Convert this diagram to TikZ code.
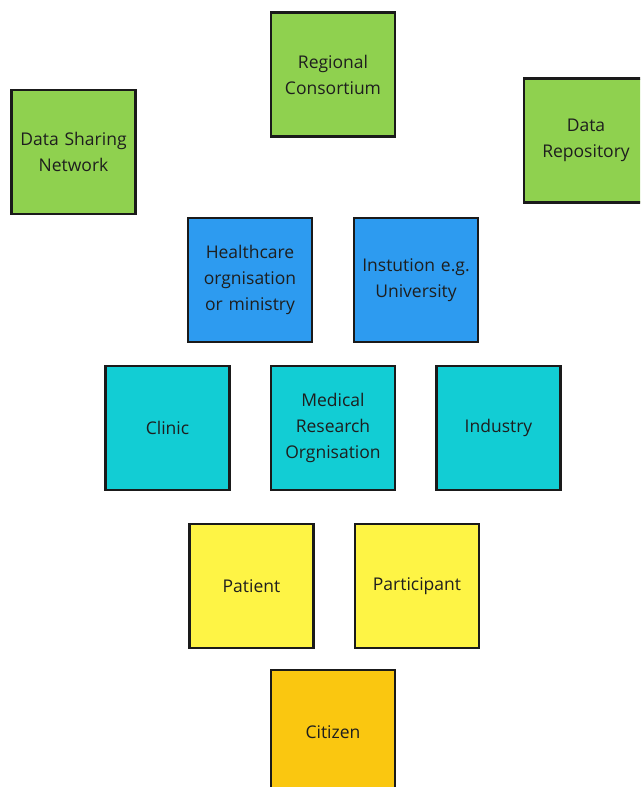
\documentclass[tikz,border=0pt]{standalone}
\usepackage{fontspec}
\setmainfont{Open Sans}
\definecolor{mgreen}{HTML}{8FD14F}
\definecolor{mblue}{HTML}{2D9BF0}
\definecolor{mteal}{HTML}{12CDD4}
\definecolor{myellow}{HTML}{FEF445}
\definecolor{morange}{HTML}{FAC710}
\definecolor{mtext}{HTML}{1E1E1E}
\definecolor{mborder}{HTML}{1A1A1A}
\begin{document}
\begin{tikzpicture}[x=1pt,y=-1pt,
  sticky/.style={draw=mborder, line width=2.4pt, minimum width=124pt, minimum height=124pt,
    inner sep=0pt, align=center, text=mtext, font=\fontsize{17.5}{26}\selectfont, text width=122pt},
  green/.style={sticky, fill=mgreen},
  blue/.style={sticky, fill=mblue},
  teal/.style={sticky, fill=mteal},
  yellow/.style={sticky, fill=myellow},
  orange/.style={sticky, fill=morange}]
\clip (0,0) rectangle (640,787);
\fill[white] (0,0) rectangle (640,787);
\node[green] (rc) at (333,74.5) {Regional\\Consortium};
\node[green] (dsn) at (73.5,152) {Data Sharing\\Network};
\node[green] (dr) at (586,140.5) {Data\\Repository};
\node[blue] (hc) at (250,280) {Healthcare\\orgnisation\\or ministry};
\node[blue] (inst) at (416,280) {Instution e.g.\\University};
\node[teal] (cl) at (167.5,428) {Clinic};
\node[teal] (mro) at (333,428) {Medical\\Research\\Orgnisation};
\node[teal] (ind) at (498.5,428) {Industry};
\node[yellow] (pat) at (251.5,586) {Patient};
\node[yellow] (par) at (417,586) {Participant};
\node[orange] (cit) at (333,732) {Citizen};
\end{tikzpicture}
\end{document}
